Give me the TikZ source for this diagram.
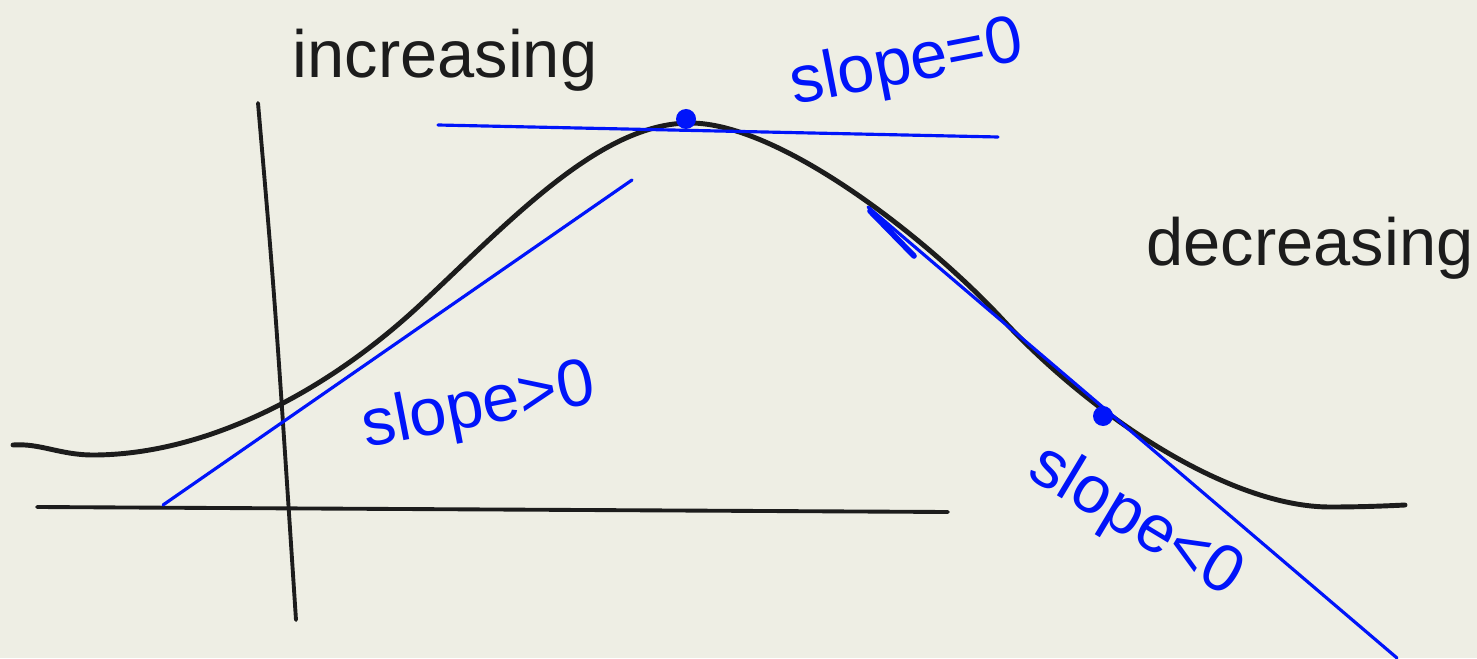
\documentclass[tikz,border=0pt]{standalone}
\usepackage{fontspec}
\setmainfont{Liberation Sans}
\definecolor{PaperBg}{RGB}{238,238,228}
\definecolor{InkBlack}{RGB}{28,28,28}
\definecolor{InkBlue}{RGB}{0,20,250}
\tikzset{
  inkword/.style={font=\fontsize{19}{22}\selectfont, inner sep=0pt},
  blueword/.style={inkword, text=InkBlue},
  blackword/.style={inkword, text=InkBlack},
  tangentline/.style={InkBlue, line width=0.9pt, line cap=round},
  axisline/.style={InkBlack, line width=1.1pt, line cap=round},
}
\begin{document}
\begin{tikzpicture}[x=0.01cm, y=-0.01cm]
      \fill[PaperBg] (0,0) rectangle (1477,658);
      \useasboundingbox (0,0) rectangle (1477,658);

      % axes
      \draw[axisline] (37,507) -- (948,512);
      \draw[axisline] (258,103) .. controls (275,300) .. (296,620);

      % the bump
      \draw[InkBlack, line width=1.4pt, line cap=round]
        (13,445) .. controls (40,443) and (60,455) .. (93,455)
        .. controls (200,455) and (320,398) .. (420,305)
        .. controls (510,221) and (600,123) .. (690,123)
        .. controls (780,123) and (928,239) .. (1003,320)
        .. controls (1093,417) and (1230,507) .. (1330,507)
        .. controls (1360,507) and (1385,506) .. (1405,505);

      % tangent lines
      \draw[tangentline] (163,505) -- (632,180);
      \draw[tangentline] (438,125) -- (998,137);
      \draw[tangentline] (868,207) -- (1397,658);
      \draw[tangentline, line width=1.6pt] (870,211) -- (914,256);
      \fill[InkBlue] (686,119) circle (10);
      \fill[InkBlue] (1103,416) circle (10);

      % labels
      \node[blackword, anchor=base] (incr) at (445,78) {increasing};
      \node[blackword, anchor=base] (decr) at (1310,265) {decreasing};
      \node[blueword, anchor=base, rotate=11] (zero) at (910,82) {slope=0};
      \node[blueword, anchor=base, rotate=11] (pos) at (482,425) {slope>0};
      \node[blueword, rotate=-31] (neg) at (1135,522) {slope<0};
    \end{tikzpicture}
\end{document}
